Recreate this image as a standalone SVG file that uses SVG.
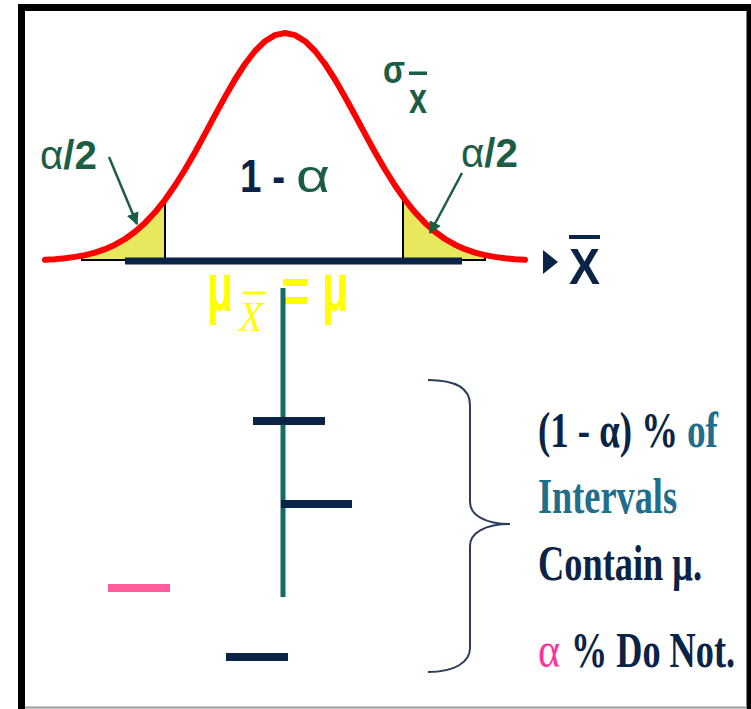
<svg xmlns="http://www.w3.org/2000/svg" width="751" height="709" viewBox="0 0 751 709">
<defs>
<style>
.sans{font-family:"Liberation Sans",Arial,sans-serif}
.serif{font-family:"Liberation Serif","Times New Roman",serif;font-weight:bold;font-size:50px}
.navy{fill:#0B2346}
.green{fill:#1B5E45}
.teal{fill:#1E6E8C}
.pink{fill:#FF3399}
.yel{fill:#FFFF00}
.bar{stroke:#0B2346;stroke-width:8;fill:none}
</style>
<marker id="ah" viewBox="0 0 10 10" refX="9" refY="5" markerWidth="5" markerHeight="5" orient="auto" markerUnits="strokeWidth">
<path d="M0,0 L10,5 L0,10 z" fill="#1B5E45"/>
</marker>
</defs>
<rect width="751" height="709" fill="#ffffff"/>
<g id="frame">
<path d="M21.5,709 V7.5 H751" fill="none" stroke="#000" stroke-width="7"/>
<line x1="749" y1="4" x2="749" y2="709" stroke="#000" stroke-width="5"/>
<line x1="25" y1="707.5" x2="747" y2="707.5" stroke="#9a9a9a" stroke-width="2"/>
</g>
<g id="tails">
<polygon points="82,255.6 85,255.1 95,252.6 105,249.2 115,244.7 125,239 135,231.8 145,222.9 155,212.3 165,199.8 165,260 82,260" fill="#E8E85E" stroke="#000" stroke-width="2"/>
<polygon points="403,197.1 405,199.8 415,212.3 425,222.9 435,231.8 445,239 455,244.7 465,249.2 475,252.6 485,255.1 485,260 403,260" fill="#E8E85E" stroke="#000" stroke-width="2"/>
</g>
<g id="axis">
<line x1="125" y1="261" x2="462" y2="261" stroke="#0B2346" stroke-width="7"/>
<polygon points="543,250 558,262 543,274" fill="#0B2346"/>
<text class="sans navy" x="569" y="284" font-size="50" font-weight="bold" textLength="31" lengthAdjust="spacingAndGlyphs">X</text>
<rect x="569" y="235" width="31" height="4" fill="#0B2346"/>
</g>
<g id="curve">
<polyline points="45,259.8 55,259.2 65,258.3 75,256.9 85,255.1 95,252.6 105,249.2 115,244.7 125,239 135,231.8 145,222.9 155,212.3 165,199.8 175,185.5 185,169.5 195,152.2 205,133.9 215,115.2 225,96.9 235,79.5 245,64 255,51 265,41.2 275,35.1 285,33 295,35.1 305,41.2 315,51 325,64 335,79.5 345,96.9 355,115.2 365,133.9 375,152.2 385,169.5 395,185.5 405,199.8 415,212.3 425,222.9 435,231.8 445,239 455,244.7 465,249.2 475,252.6 485,255.1 495,256.9 505,258.3 515,259.2 525,259.8" fill="none" stroke="#FF0000" stroke-width="6" stroke-linejoin="round" stroke-linecap="round"/>
</g>
<g id="sigma">
<text class="sans green" x="383" y="83" font-size="38" font-weight="bold" textLength="22" lengthAdjust="spacingAndGlyphs">σ</text>
<rect x="409" y="71.5" width="18" height="3.5" fill="#1B5E45"/>
<text class="sans green" x="409" y="113" font-size="42" font-weight="bold" textLength="18" lengthAdjust="spacingAndGlyphs">x</text>
</g>
<g id="alpha-left">
<text class="sans green" x="40" y="169" font-size="40" font-weight="bold" textLength="57" lengthAdjust="spacingAndGlyphs"><tspan font-weight="normal">α</tspan>/2</text>
</g>
<g id="alpha-right">
<text class="sans green" x="461" y="167" font-size="40" font-weight="bold" textLength="57" lengthAdjust="spacingAndGlyphs"><tspan font-weight="normal">α</tspan>/2</text>
</g>
<g id="center-label">
<text class="sans navy" x="240" y="192" font-size="46" font-weight="bold" textLength="45" lengthAdjust="spacingAndGlyphs">1 -</text>
<text class="sans green" x="296" y="192" font-size="46" textLength="34" lengthAdjust="spacingAndGlyphs">α</text>
</g>
<g id="connectors">
<line x1="109" y1="157" x2="137" y2="224" stroke="#1B5E45" stroke-width="2.5" marker-end="url(#ah)"/>
<line x1="462" y1="173" x2="430" y2="233" stroke="#1B5E45" stroke-width="2.5" marker-end="url(#ah)"/>
</g>
<g id="mu-label">
<text class="sans yel" x="207" y="311" font-size="68" font-weight="bold" textLength="26" lengthAdjust="spacingAndGlyphs">μ</text>
<text class="yel" x="239" y="331" font-size="42" font-family="'Liberation Serif',serif" font-style="italic" textLength="24" lengthAdjust="spacingAndGlyphs">X</text>
<line x1="243" y1="293" x2="265" y2="293" stroke="#FFFF00" stroke-width="3"/>
<text class="sans yel" x="281" y="313" font-size="64" font-weight="bold" textLength="28" lengthAdjust="spacingAndGlyphs">=</text>
<text class="sans yel" x="322" y="311" font-size="68" font-weight="bold" textLength="26" lengthAdjust="spacingAndGlyphs">μ</text>
</g>
<g id="intervals">
<line x1="283" y1="288" x2="283" y2="597" stroke="#1A6A64" stroke-width="5"/>
<line class="bar" x1="253" y1="421" x2="325" y2="421"/>
<line class="bar" x1="281" y1="504" x2="352" y2="504"/>
<line class="bar" x1="226" y1="657" x2="288" y2="657"/>
<line x1="108" y1="588" x2="170" y2="588" stroke="#FF5C9D" stroke-width="8"/>
</g>
<g id="brace">
<path d="M428,380 C455,380 470,388 470,405 L470,502 C470,515 485,524 510,524 C485,524 470,533 470,546 L470,648 C470,662 455,672 428,672" fill="none" stroke="#2B3D5A" stroke-width="2"/>
</g>
<g id="legend">
<text class="serif navy" x="538" y="447" textLength="140" lengthAdjust="spacingAndGlyphs">(1 - α) %</text>
<text class="serif teal" x="687" y="447" textLength="31" lengthAdjust="spacingAndGlyphs">of</text>
<text class="serif teal" x="538" y="513" textLength="139" lengthAdjust="spacingAndGlyphs">Intervals</text>
<text class="serif navy" x="538" y="580" textLength="164" lengthAdjust="spacingAndGlyphs">Contain μ.</text>
<text class="serif pink" x="538" y="667" style="font-weight:normal" textLength="22" lengthAdjust="spacingAndGlyphs">α</text>
<text class="serif navy" x="571" y="667" textLength="164" lengthAdjust="spacingAndGlyphs">% Do Not.</text>
</g>
</svg>
